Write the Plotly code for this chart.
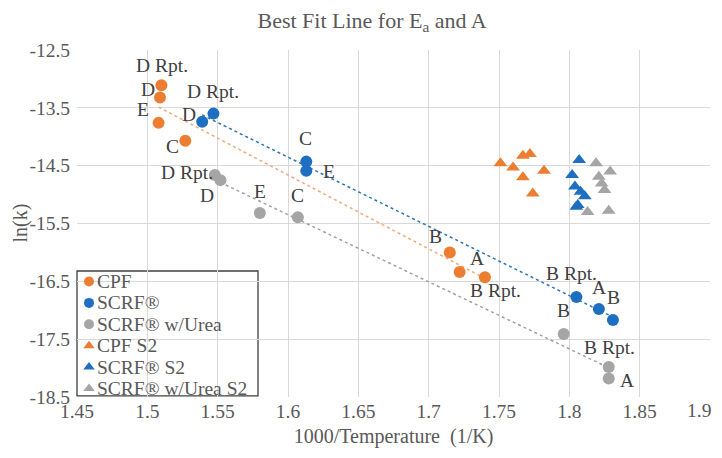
import numpy as np
import plotly.graph_objects as go

# ---- data (x = 1000/T, y = ln k) ----
cpf_x = [1.510, 1.509, 1.508, 1.527, 1.715, 1.722, 1.740]
cpf_y = [-13.11, -13.32, -13.76, -14.07, -16.00, -16.34, -16.43]
cpf_lbl = ["D Rpt.", "D", "E", "C", "B", "B Rpt.", "A"]

scrf_x = [1.547, 1.539, 1.613, 1.613, 1.805, 1.821, 1.831]
scrf_y = [-13.60, -13.74, -14.43, -14.59, -16.77, -16.98, -17.17]
scrf_lbl = ["D Rpt.", "D", "C", "E", "B Rpt.", "A", "B"]

urea_x = [1.548, 1.552, 1.580, 1.607, 1.796, 1.828, 1.828]
urea_y = [-14.66, -14.75, -15.32, -15.39, -17.41, -17.98, -18.18]
urea_lbl = ["D Rpt.", "D", "E", "C", "B", "B Rpt.", "A"]

cpf2_x = [1.751, 1.760, 1.767, 1.772, 1.767, 1.782, 1.774]
cpf2_y = [-14.46, -14.53, -14.33, -14.30, -14.70, -14.59, -14.98]

scrf2_x = [1.807, 1.802, 1.804, 1.808, 1.811, 1.805, 1.806]
scrf2_y = [-14.40, -14.66, -14.86, -14.95, -15.03, -15.21, -15.18]

urea2_x = [1.819, 1.829, 1.821, 1.823, 1.825, 1.813, 1.828]
urea2_y = [-14.46, -14.60, -14.69, -14.81, -14.92, -15.30, -15.28]

x_ticks = [1.45, 1.5, 1.55, 1.6, 1.65, 1.7, 1.75, 1.8, 1.85, 1.9]
y_ticks = [-12.5, -13.5, -14.5, -15.5, -16.5, -17.5, -18.5]

# ---- styling ----
# label offsets (pixels, dx right / dy down) for each data label
cpf_off = [(1, -20), (-12, -8), (-16, -13), (-13, 6), (-14, -16), (36, 18), (-8, -19)]
scrf_off = [(0, -22), (-13, -7), (-1, -23), (23, 1), (-5, -23), (0, -22), (1, -23)]
urea_off = [(-28, -2), (-13, 15), (0, -22), (0, -22), (0, -23), (1, -19), (18, 2)]

ORANGE = "#ED7D31"
BLUE = "#1F6FC0"
GRAY = "#A5A5A5"
SERIF = "Liberation Serif"
TXT = "#595959"

series = [
    ("CPF", cpf_x, cpf_y, ORANGE, "circle"),
    ("SCRF®", scrf_x, scrf_y, BLUE, "circle"),
    ("SCRF® w/Urea", urea_x, urea_y, GRAY, "circle"),
    ("CPF S2", cpf2_x, cpf2_y, ORANGE, "triangle-up"),
    ("SCRF® S2", scrf2_x, scrf2_y, BLUE, "triangle-up"),
    ("SCRF® w/Urea S2", urea2_x, urea2_y, GRAY, "triangle-up"),
]

fig = go.Figure()

# trendlines (least-squares fits, spanning each series' x-range)
for xs, ys, col in [(cpf_x, cpf_y, "#F4A878"), (scrf_x, scrf_y, "#2E75B6"), (urea_x, urea_y, "#A0A0A0")]:
    m, b = np.polyfit(xs, ys, 1)
    xr = np.array([min(xs), max(xs)])
    fig.add_trace(go.Scatter(x=xr, y=m * xr + b, mode="lines", showlegend=False, hoverinfo="skip",
                             line=dict(color=col, width=1.5, dash="dot")))

for name, xs, ys, col, sym in series:
    fig.add_trace(go.Scatter(x=xs, y=ys, mode="markers", name=name, showlegend=False,
                             marker=dict(symbol=sym, size=12, color=col)))

# point labels
for xs, ys, lbls, offs in [(cpf_x, cpf_y, cpf_lbl, cpf_off), (scrf_x, scrf_y, scrf_lbl, scrf_off),
                           (urea_x, urea_y, urea_lbl, urea_off)]:
    for xv, yv, t, (dx, dy) in zip(xs, ys, lbls, offs):
        fig.add_annotation(x=xv, y=yv, text=t, showarrow=False, xanchor="center", yanchor="middle",
                           xshift=dx, yshift=-dy, font=dict(family=SERIF, size=19.5, color="#404040"))

# ---- custom legend box (paper coords of the plot area) ----
W, H = 633.0, 347.0          # plot area in px
box_x1 = 181 / W
box_y1 = 126 / H
row_h = 21.4 / H
first_row = box_y1 - 10.5 / H
mk_u = 12 / W
tx_u = 18 / W
fig.add_shape(type="rect", xref="paper", yref="paper", x0=0, x1=box_x1, y0=0.003, y1=box_y1,
              line=dict(color="#404040", width=1.3), fillcolor="white", layer="between")
leg_v = [first_row - i * row_h for i in range(len(series))]
for i, (name, xs, ys, col, sym) in enumerate(series):
    fig.add_trace(go.Scatter(x=[mk_u], y=[leg_v[i]], xaxis="x2", yaxis="y2", mode="markers",
                             showlegend=False, hoverinfo="skip",
                             marker=dict(symbol=sym, size=10, color=col)))
    fig.add_annotation(x=tx_u, y=leg_v[i], xref="paper", yref="paper", text=name, showarrow=False,
                       xanchor="left", yanchor="middle", font=dict(family=SERIF, size=19.5, color=TXT))

# y-axis title
fig.add_annotation(x=-57 / W, y=0.5, xref="paper", yref="paper", text="ln(k)", textangle=-90,
                   showarrow=False, xanchor="center", yanchor="middle",
                   font=dict(family=SERIF, size=20, color=TXT))

# tick texts; the last one is drawn right-aligned so it stays inside the page edge
x_ticktext = [f"{v:g}" for v in x_ticks]
last_tick = x_ticktext[-1]
x_ticktext[-1] = ""
fig.add_annotation(x=x_ticks[-1], y=0, xref="x", yref="paper", text=last_tick, showarrow=False,
                   xanchor="right", yanchor="middle", xshift=3, yshift=-13,
                   font=dict(family=SERIF, size=19.5, color=TXT))

fig.update_layout(
    width=714, height=442,
    margin=dict(l=69, r=12, t=42, b=53),
    paper_bgcolor="white", plot_bgcolor="white",
    font=dict(family=SERIF, size=19, color=TXT),
    title=dict(text="Best Fit Line for E<sub>a</sub> and A", x=0.51, xanchor="center",
               y=1 - 12 / 442, yanchor="middle",
               font=dict(family=SERIF, size=22, color=TXT)),
    xaxis=dict(range=[1.45, 1.9], tickvals=x_ticks, ticktext=x_ticktext,
               showgrid=True, gridcolor="#D9D9D9", gridwidth=1, zeroline=False, showline=False,
               ticks="", automargin=False, ticklabeloverflow="allow",
               title=dict(text="1000/Temperature  (1/K)", font=dict(family=SERIF, size=20, color=TXT), standoff=8),
               tickfont=dict(family=SERIF, size=19.5, color=TXT)),
    yaxis=dict(range=[-18.5, -12.5], tickvals=y_ticks, ticktext=[f"{v:g}" for v in y_ticks],
               showgrid=True, gridcolor="#D9D9D9", gridwidth=1, zeroline=False, showline=False,
               ticks="outside", ticklen=2, tickcolor="rgba(0,0,0,0)", automargin=False,
               ticklabeloverflow="allow",
               tickfont=dict(family=SERIF, size=19.5, color=TXT)),
    xaxis2=dict(range=[0, 1], overlaying="x", anchor="y2", visible=False, fixedrange=True),
    yaxis2=dict(range=[0, 1], overlaying="y", anchor="x2", visible=False, fixedrange=True),
    showlegend=False,
)

fig.write_html("out.html")
